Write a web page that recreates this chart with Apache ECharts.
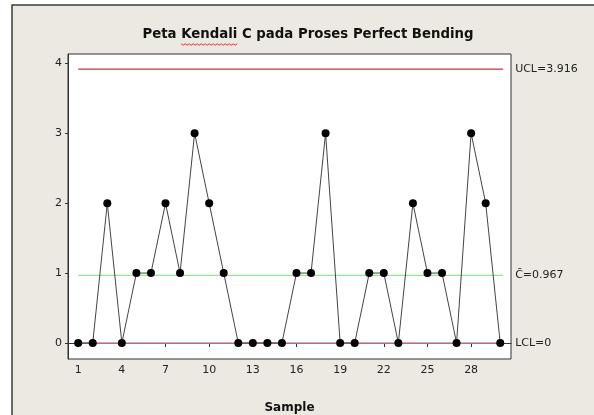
<!DOCTYPE html>
<html>
<head>
<meta charset="utf-8">
<script src="https://cdn.jsdelivr.net/npm/echarts@6/dist/echarts.min.js"></script>
<style>html,body{margin:0;padding:0;background:#fff}#c{width:594px;height:415px}</style>
</head>
<body>
<div id="c"></div>
<script>
// Data
const samples = [1,2,3,4,5,6,7,8,9,10,11,12,13,14,15,16,17,18,19,20,21,22,23,24,25,26,27,28,29,30];
const counts  = [0,0,2,0,1,1,2,1,3,2,1,0,0,0,0,1,1,3,0,0,1,1,0,2,1,1,0,3,2,0];
const xTickLabels = [1,4,7,10,13,16,19,22,25,28];
const yTickLabels = [0,1,2,3,4];
const UCL = 3.916, CL = 0.967, LCL = 0;
const limitSpan = [1, 30.2];
const titleText = 'Peta Kendali C pada Proses Perfect Bending';
const xName = 'Sample';

const FONT = 'DejaVu Sans';
const TITLE_FONT = 'bold 13.3px "' + FONT + '"';
const chart = echarts.init(document.getElementById('c'), null, {renderer: 'canvas'});

// spell-check style wavy underline under "Kendali" (decoration of the title text)
const ctx = document.createElement('canvas').getContext('2d');
ctx.font = TITLE_FONT;
const titleCx = 308, titleCy = 35;
const fullW = ctx.measureText(titleText).width;
const startX = titleCx - fullW / 2 + ctx.measureText('Peta ').width;
const endX = titleCx - fullW / 2 + ctx.measureText('Peta Kendali').width;
const wave = [];
for (let x = startX, k = 0; x <= endX; x += 2, k++) wave.push([x, titleCy + 9 + (k % 2 ? 1.2 : -0.2)]);

function limitSeries(val, color, width, label) {
  return {
    type: 'line', symbol: 'none', silent: true, z: 1,
    data: limitSpan.map(x => [x, val]),
    lineStyle: {color: color, width: width},
    endLabel: {show: true, formatter: label, distance: 12, color: '#222',
               fontFamily: FONT, fontSize: 11}
  };
}

chart.setOption({
  backgroundColor: '#ffffff',
  animation: false,
  graphic: [
    {type: 'rect', z: -10, shape: {x: 12, y: 5, width: 600, height: 420},
     style: {fill: '#ECE9E2', stroke: '#3c3c3c', lineWidth: 1.5}},
    {type: 'text', x: titleCx, y: titleCy, z: 10,
     style: {text: titleText, textAlign: 'center', textVerticalAlign: 'middle',
             font: TITLE_FONT, fill: '#111'}},
    {type: 'polyline', z: 10, shape: {points: wave},
     style: {stroke: '#E03030', lineWidth: 1, fill: null}}
  ],
  grid: {left: 68, right: 83, top: 54, bottom: 56, show: true, outerBoundsMode: 'none',
         containLabel: false,
         backgroundColor: '#ffffff', borderColor: '#333', borderWidth: 1},
  xAxis: {
    type: 'value', min: 0.3, max: 30.74,
    name: xName, nameLocation: 'middle', nameGap: 43,
    nameTextStyle: {fontFamily: FONT, fontWeight: 'bold', fontSize: 12, color: '#111'},
    axisLine: {show: true, lineStyle: {color: '#333'}},
    splitLine: {show: false},
    axisTick: {show: true, length: 4, customValues: xTickLabels, lineStyle: {color: '#333'}},
    axisLabel: {customValues: xTickLabels, fontFamily: FONT, fontSize: 11, color: '#222', margin: 6}
  },
  yAxis: {
    type: 'value', min: -0.229, max: 4.133,
    axisLine: {show: true, lineStyle: {color: '#333'}},
    splitLine: {show: false},
    axisTick: {show: true, length: 3, customValues: yTickLabels, lineStyle: {color: '#333'}},
    axisLabel: {customValues: yTickLabels, fontFamily: FONT, fontSize: 11, color: '#222', margin: 6}
  },
  series: [
    limitSeries(UCL, '#C83040', 1.3, 'UCL=' + UCL),
    limitSeries(CL, '#90E890', 1.3, 'C\u0304=' + CL),
    limitSeries(LCL, '#D88A9A', 1.5, 'LCL=' + LCL),
    {
      type: 'line', z: 3,
      data: samples.map((s, i) => [s, counts[i]]),
      symbol: 'circle', symbolSize: 8, showSymbol: true,
      itemStyle: {color: '#000'},
      lineStyle: {color: '#444', width: 1}
    }
  ]
});
</script>
</body>
</html>
